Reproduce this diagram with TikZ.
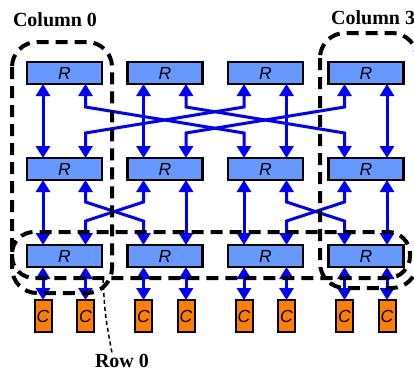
\documentclass[tikz,border=0pt]{standalone}
\usepackage{fontspec}
\setmainfont{Liberation Serif}
\newfontfamily\lsans{Liberation Sans}
\usetikzlibrary{arrows.meta,calc}
\definecolor{rfill}{RGB}{102,153,255}
\definecolor{cfill}{RGB}{255,128,0}
\definecolor{linkblue}{RGB}{0,0,255}
\begin{document}
\begin{tikzpicture}[x=1pt,y=-1pt,
  router/.style={draw=black, line width=2.5pt, fill=rfill, minimum width=75pt, minimum height=22pt, inner sep=0pt, outer sep=0pt,
    font=\lsans\itshape\fontsize{17.5}{17.5}\selectfont},
  core/.style={draw=black, line width=2pt, fill=cfill, minimum width=17pt, minimum height=32pt, inner sep=0pt, outer sep=0pt,
    font=\lsans\itshape\fontsize{17.5}{17.5}\selectfont},
  link/.style={draw=linkblue, line width=3pt, {Triangle[width=14pt,length=12pt]}-{Triangle[width=14pt,length=12pt]}},
  group/.style={draw=black, line width=4pt, dash pattern=on 12pt off 7pt, rounded corners=25pt},
  lbl/.style={font=\bfseries\fontsize{20}{20}\selectfont, inner sep=1pt},
  pointer/.style={draw=black, line width=1.5pt, dash pattern=on 4pt off 3pt}
]
\useasboundingbox (0,0) rectangle (414,372);
% routers
\foreach \i in {0,1,2,3}{
  \node[router] (rt\i) at (64.5+100.5*\i,73) {R};
  \node[router] (rm\i) at (64.5+100.5*\i,169) {R};
  \node[router] (rb\i) at (64.5+100.5*\i,256) {R};
  \node[core] (ca\i) at (43+100.5*\i,316) {C};
  \node[core] (cb\i) at (85.5+100.5*\i,316) {C};
}
% top layer: straight links
\draw[link] ($(rt0.south)+(-21.5,0)$) -- ($(rm0.north)+(-21.5,0)$);
\draw[link] ($(rt1.south)+(-21.5,0)$) -- ($(rm1.north)+(-21.5,0)$);
\draw[link] ($(rt2.south)+(21,0)$) -- ($(rm2.north)+(21,0)$);
\draw[link] ($(rt3.south)+(21,0)$) -- ($(rm3.north)+(21,0)$);
% top layer: crossing links
\draw[link] ($(rt0.south)+(21,0)$) -- ++(0,23) -- ($(rm2.north)+(-21.5,-25)$) -- ($(rm2.north)+(-21.5,0)$);
\draw[link] ($(rt2.south)+(-21.5,0)$) -- ++(0,23) -- ($(rm0.north)+(21,-25)$) -- ($(rm0.north)+(21,0)$);
\draw[link] ($(rt1.south)+(21,0)$) -- ++(0,23) -- ($(rm3.north)+(-21.5,-25)$) -- ($(rm3.north)+(-21.5,0)$);
\draw[link] ($(rt3.south)+(-21.5,0)$) -- ++(0,23) -- ($(rm1.north)+(21,-25)$) -- ($(rm1.north)+(21,0)$);
% bottom layer: straight links
\draw[link] ($(rm0.south)+(-21.5,0)$) -- ($(rb0.north)+(-21.5,0)$);
\draw[link] ($(rm1.south)+(21,0)$) -- ($(rb1.north)+(21,0)$);
\draw[link] ($(rm2.south)+(-21.5,0)$) -- ($(rb2.north)+(-21.5,0)$);
\draw[link] ($(rm3.south)+(21,0)$) -- ($(rb3.north)+(21,0)$);
% bottom layer: crossing links
\draw[link] ($(rm0.south)+(21,0)$) -- ++(0,22) -- ($(rb1.north)+(-21.5,-24)$) -- ($(rb1.north)+(-21.5,0)$);
\draw[link] ($(rm1.south)+(-21.5,0)$) -- ++(0,22) -- ($(rb0.north)+(21,-24)$) -- ($(rb0.north)+(21,0)$);
\draw[link] ($(rm2.south)+(21,0)$) -- ++(0,22) -- ($(rb3.north)+(-21.5,-24)$) -- ($(rb3.north)+(-21.5,0)$);
\draw[link] ($(rm3.south)+(-21.5,0)$) -- ++(0,22) -- ($(rb2.north)+(21,-24)$) -- ($(rb2.north)+(21,0)$);
% core links
\foreach \i in {0,1,2,3}{
  \draw[link] ($(rb\i.south)+(-21.5,0)$) -- (ca\i.north);
  \draw[link] ($(rb\i.south)+(21,0)$) -- (cb\i.north);
}
% groups
\draw[group] (12,42) rectangle (112,293);
\draw[group] (320,33) rectangle (417,288);
\draw[group, rounded corners=22pt] (12,232) rectangle (410,278);
% labels
\node[lbl] (col0) at (55,20) {Column 0};
\node[lbl, anchor=west] (col3) at (330,18) {Column 3};
\node[lbl] (row0) at (122,361) {Row 0};
\coordinate (rowp) at (103,279);
\draw[pointer] (rowp) .. controls (105,315) .. ($(row0.north)+(-10,0)$);
\end{tikzpicture}
\end{document}
